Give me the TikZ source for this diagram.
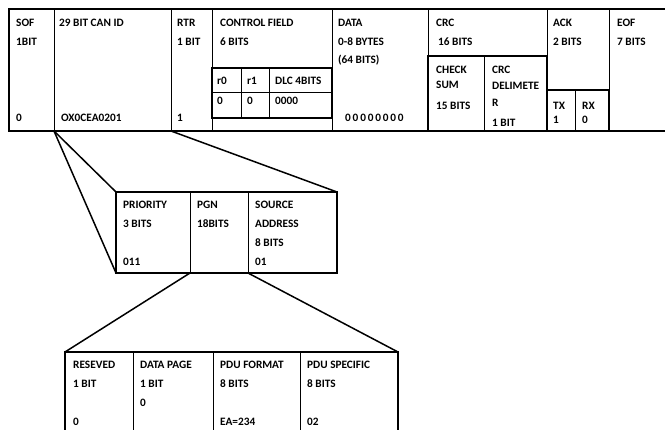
\documentclass[tikz,border=0pt]{standalone}
\usepackage{fontspec}
\setmainfont{Carlito}
\usepackage{tikz}
\usetikzlibrary{positioning}
\tikzset{
  outer/.style={draw,line width=1.9pt},
  subbox/.style={draw,line width=1.7pt},
  divider/.style={draw,line width=0.7pt},
  link/.style={line width=1.5pt},
  lbl/.style={anchor=base west,inner sep=0pt,font=\fontsize{11.3}{13}\selectfont\bfseries},
  spaced/.style={lbl,font=\fontsize{11.3}{13}\selectfont\bfseries\addfontfeatures{LetterSpace=16}}
}

\begin{document}
\begin{tikzpicture}[x=1pt,y=-1pt]
\useasboundingbox (0,0) rectangle (665,430);
% corners of the three tables
\coordinate (can nw) at (9,9);
\coordinate (can se) at (667,131);
\coordinate (idl) at (54,131);
\coordinate (idr) at (171,131);
\coordinate (hdr nw) at (116,192);
\coordinate (hdr ne) at (337,192);
\coordinate (hdr sw) at (116,273);
\coordinate (hdr se) at (337,273);
\coordinate (pgnl) at (190,273);
\coordinate (pgnr) at (248,273);
\coordinate (pgn nw) at (65,352);
\coordinate (pgn ne) at (398,352);
\coordinate (pgn se) at (398,431);

% frame of CAN message
\draw[outer] (can nw) rectangle (can se);
\foreach \x in {54,171,212,332,428,547,609}
  \draw[divider] (\x,9) -- (\x,131);
% control field sub table
\draw[divider] (212,92) -- (332,92);
\draw[divider] (241,68) -- (241,118);
\draw[divider] (269,68) -- (269,118);
\draw[subbox] (212,68) rectangle (332,118);
% crc sub table
\draw[divider] (484,56) -- (484,131);
\draw[subbox] (428,56) rectangle (547,131);
% ack sub table
\draw[divider] (575,90) -- (575,131);
\draw[subbox] (547,90) rectangle (609,131);

% 29 bit id
\foreach \x in {190,248}
  \draw[divider] (\x,192) -- (\x,273);
\draw[outer] (hdr nw) rectangle (hdr se);

% pgn
\foreach \x in {133,213,300}
  \draw[divider] (\x,352) -- (\x,431);
\draw[outer] (pgn nw) rectangle (pgn se);

% zoom lines
\draw[link] (idl) -- (hdr nw);
\draw[link] (idl) -- (hdr sw);
\draw[link] (idr) -- (hdr ne);
\draw[link] (pgnl) -- (pgn nw);
\draw[link] (pgnr) -- (pgn ne);

% labels of CAN message
\node[lbl] (sof) at (16,26.5) {SOF};
\node[lbl] (sofbits) at (16,45.5) {1BIT};
\node[lbl] (sofval) at (16,121.5) {0};
\node[lbl] (canid) at (59,26.5) {29 BIT CAN ID};
\node[lbl] (canidval) at (61,121.5) {OX0CEA0201};
\node[lbl] (rtr) at (177,26.5) {RTR};
\node[lbl] (rtrbits) at (177,45.5) {1 BIT};
\node[lbl] (rtrval) at (177,121.5) {1};
\node[lbl] (ctrl) at (220,26.5) {CONTROL FIELD};
\node[lbl] (ctrlbits) at (220,45.5) {6 BITS};
\node[lbl] (rzero) at (217,85) {r0};
\node[lbl] (rone) at (247,85) {r1};
\node[lbl] (dlc) at (275,85) {DLC 4BITS};
\node[lbl] (rzeroval) at (217,104.5) {0};
\node[lbl] (roneval) at (247,104.5) {0};
\node[lbl] (dlcval) at (275,104.5) {0000};
\node[lbl] (data) at (338,26.5) {DATA};
\node[lbl] (databytes) at (338,45.5) {0-8 BYTES};
\node[lbl] (databits) at (338,64) {(64 BITS)};
\node[spaced] (dataval) at (345,122) {00000000};
\node[lbl] (crc) at (436,26.5) {CRC};
\node[lbl] (crcbits) at (438,45.5) {16 BITS};
\node[lbl] (check) at (436,73.5) {CHECK};
\node[lbl] (sum) at (436,88.5) {SUM};
\node[lbl] (sumbits) at (436,109.5) {15 BITS};
\node[lbl] (delim) at (492,73.5) {CRC};
\node[lbl] (delimb) at (492,90) {DELIMETE};
\node[lbl] (delimc) at (492,106.5) {R};
\node[lbl] (delimbits) at (492,126.5) {1 BIT};
\node[lbl] (ack) at (553,26.5) {ACK};
\node[lbl] (ackbits) at (553,45.5) {2 BITS};
\node[lbl] (tx) at (553,109.5) {TX};
\node[lbl] (txval) at (553,123.5) {1};
\node[lbl] (rx) at (582,109.5) {RX};
\node[lbl] (rxval) at (582,123.5) {0};
\node[lbl] (eof) at (617,26.5) {EOF};
\node[lbl] (eofbits) at (617,45.5) {7 BITS};

% labels of 29 bit id
\node[lbl] (prio) at (123,208.5) {PRIORITY};
\node[lbl] (priobits) at (123,227.5) {3 BITS};
\node[lbl] (prioval) at (123,265.5) {011};
\node[lbl] (pgn) at (197,208.5) {PGN};
\node[lbl] (pgnbits) at (197,227.5) {18BITS};
\node[lbl] (src) at (255,208.5) {SOURCE};
\node[lbl] (srcb) at (255,227.5) {ADDRESS};
\node[lbl] (srcbits) at (255,246.5) {8 BITS};
\node[lbl] (srcval) at (255,265.5) {01};

% labels of pgn
\node[lbl] (res) at (73,368.5) {RESEVED};
\node[lbl] (resbits) at (73,387.5) {1 BIT};
\node[lbl] (resval) at (73,426) {0};
\node[lbl] (dp) at (140,368.5) {DATA PAGE};
\node[lbl] (dpbits) at (140,387.5) {1 BIT};
\node[lbl] (dpval) at (140,407) {0};
\node[lbl] (pf) at (220,368.5) {PDU FORMAT};
\node[lbl] (pfbits) at (220,387.5) {8 BITS};
\node[lbl] (pfval) at (220,426) {EA=234};
\node[lbl] (ps) at (307,368.5) {PDU SPECIFIC};
\node[lbl] (psbits) at (307,387.5) {8 BITS};
\node[lbl] (psval) at (307,426) {02};
\end{tikzpicture}
\end{document}
